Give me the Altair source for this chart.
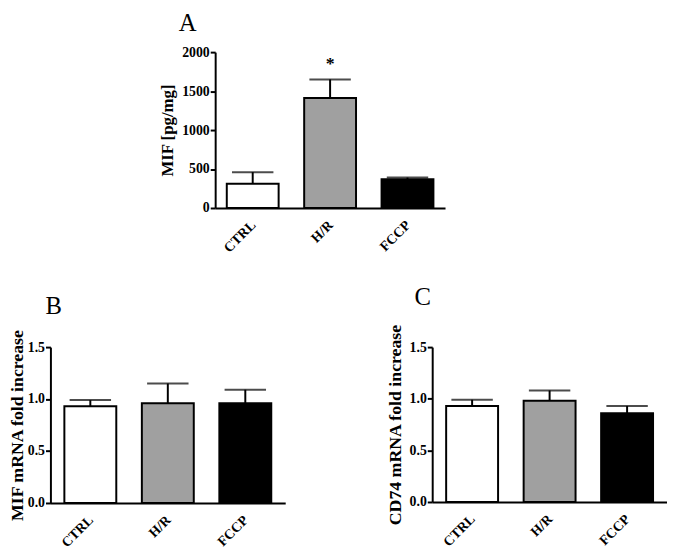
import altair as alt
import pandas as pd

groups = ["CTRL", "H/R", "FCCP"]
fills = ["#ffffff", "#a0a0a0", "#000000"]

a_mean = [310, 1410, 370]
a_err = [150, 240, 20]
a_sig = ["", "*", ""]

b_mean = [0.93, 0.96, 0.96]
b_err = [0.06, 0.19, 0.13]

c_mean = [0.93, 0.98, 0.86]
c_err = [0.06, 0.10, 0.07]

FONT = "Liberation Serif"


def panel(mean, err, letter, ytitle, domain, ticks, fmt, width, height,
          p_inner, p_outer, tdx, tdy, sig=None, toffset=18, tpad=4,
          tsize=16):
    df = pd.DataFrame({
        "group": groups,
        "mean": mean,
        "upper": [m + e for m, e in zip(mean, err)],
        "sig": sig if sig else [""] * len(groups),
    })
    x = alt.X("group:N", sort=groups,
              scale=alt.Scale(paddingInner=p_inner, paddingOuter=p_outer),
              axis=alt.Axis(title=None, labelAngle=-45, labelAlign="right",
                            labelBaseline="top", ticks=False,
                            domainWidth=2, domainColor="black",
                            labelFont=FONT, labelFontWeight="bold",
                            labelFontSize=14, labelColor="black",
                            labelPadding=10, labelOffset=-4))
    yax = alt.Axis(title=ytitle, values=ticks, format=fmt, grid=False,
                   domainWidth=2, domainColor="black", tickWidth=2,
                   tickColor="black", tickSize=5, labelPadding=1,
                   labelOverlap=False, tickCount=len(ticks),
                   labelFont=FONT, labelFontWeight="bold", labelFontSize=14,
                   labelColor="black", titleFont=FONT, titleFontSize=tsize,
                   titleFontWeight="bold", titleColor="black",
                   titlePadding=tpad)
    yscale = alt.Scale(domain=domain, nice=False)
    base = alt.Chart(df)
    rule = base.mark_rule(color="black", strokeWidth=2).encode(
        x=x, y=alt.Y("mean:Q", scale=yscale, axis=yax), y2="upper:Q")
    cap = base.mark_tick(color="black", thickness=2, size=42).encode(
        x=x, y=alt.Y("upper:Q", scale=yscale, axis=yax))
    bar = base.mark_bar(stroke="black", strokeWidth=2).encode(
        x=x, y=alt.Y("mean:Q", scale=yscale, axis=yax),
        fill=alt.Fill("group:N", sort=groups,
                      scale=alt.Scale(domain=groups, range=fills),
                      legend=None))
    layers = [rule, cap, bar]
    if sig:
        star = base.mark_text(font=FONT, fontSize=18, fontWeight="bold",
                              color="black", dy=-16).encode(
            x=x, y=alt.Y("upper:Q", scale=yscale, axis=yax), text="sig:N")
        layers.append(star)
    return alt.layer(*layers).properties(
        width=width, height=height,
        title=alt.TitleParams(letter, anchor="start", frame="group",
                              font=FONT, fontSize=25, fontWeight="normal",
                              color="black", dx=tdx, dy=tdy,
                              offset=toffset))


A = panel(a_mean, a_err, "A", "MIF [pg/mg]", [0, 2000],
          [0, 500, 1000, 1500, 2000], "d", 233, 158, 0.33, 0.15, -37, 0,
          sig=a_sig, toffset=9, tpad=5, tsize=17)
B = panel(b_mean, b_err, "B", "MIF mRNA fold increase", [0, 1.5],
          [0, 0.5, 1.0, 1.5], ".1f", 238, 158, 0.33, 0.18, -5, 0,
          toffset=10, tpad=1, tsize=18)
C = panel(c_mean, c_err, "C", "CD74 mRNA fold increase", [0, 1.5],
          [0, 0.5, 1.0, 1.5], ".1f", 238, 157, 0.33, 0.18, -18, -4,
          toffset=10, tpad=5, tsize=18)

spacer = alt.Chart(pd.DataFrame({"v": [0]})).mark_point(opacity=0).encode(
    x=alt.value(0), y=alt.value(0)).properties(width=110, height=10)

row1 = alt.hconcat(spacer, A, spacing=0).resolve_scale(
    x="independent", y="independent")
row2 = alt.hconcat(B, C, spacing=102).resolve_scale(
    x="independent", y="independent")

chart = alt.vconcat(row1, row2, spacing=30).resolve_scale(
    x="independent", y="independent").properties(
    padding=0, background="white").configure_view(
    strokeWidth=0, strokeOpacity=0)

chart.save("out.html", embed_options={"renderer": "svg", "actions": False})
